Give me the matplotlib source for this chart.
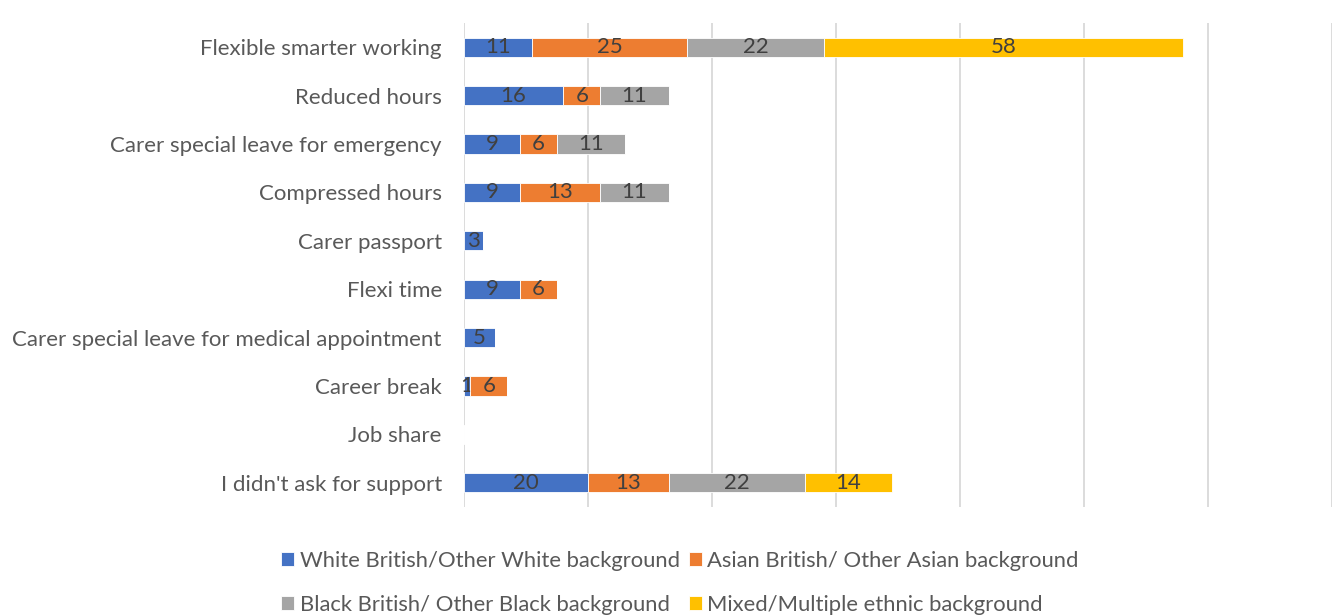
import matplotlib
matplotlib.use("Agg")
import matplotlib.pyplot as plt
import numpy as np

plt.rcParams['font.family'] = ['Lato', 'DejaVu Sans']

categories = [
    "Flexible smarter working",
    "Reduced hours",
    "Carer special leave for emergency",
    "Compressed hours",
    "Carer passport",
    "Flexi time",
    "Carer special leave for medical appointment",
    "Career break",
    "Job share",
    "I didn't ask for support",
]
white = [11, 16, 9, 9, 3, 9, 5, 1, 0, 20]
asian = [25, 6, 6, 13, 0, 6, 0, 6, 0, 13]
black = [22, 11, 11, 11, 0, 0, 0, 0, 0, 22]
mixed = [58, 0, 0, 0, 0, 0, 0, 0, 0, 14]

series_names = [
    "White British/Other White background",
    "Asian British/ Other Asian background",
    "Black British/ Other Black background",
    "Mixed/Multiple ethnic background",
]
colors = ["#4472C4", "#ED7D31", "#A5A5A5", "#FFC000"]

W, H = 1333, 616
fig = plt.figure(figsize=(W / 100, H / 100), dpi=100)
ax = fig.add_axes([464 / W, (H - 507) / H, (1332 - 464) / W, (507 - 23) / H])

y = np.arange(len(categories))
left = np.zeros(len(categories))
handles = []
for vals, name, col in zip([white, asian, black, mixed], series_names, colors):
    vals = np.array(vals, dtype=float)
    bars = ax.barh(y, vals, left=left, height=0.4, color=col, label=name,
                   edgecolor="white", linewidth=0.6, zorder=3)
    labels = [f"{int(v)}" if v > 0 else "" for v in vals]
    ax.bar_label(bars, labels=labels, label_type="center", color="#404040",
                 fontsize=16)
    handles.append(bars)
    left += vals

ax.set_xlim(0, 140)
ax.set_ylim(len(categories) - 0.5, -0.5)
ax.set_xticks(np.arange(0, 141, 20))
ax.set_xticklabels([])
ax.tick_params(axis="x", length=0)
ax.tick_params(axis="y", length=0, pad=16, labelsize=16, labelcolor="#595959")
ax.set_yticks(y)
ax.set_yticklabels(categories)
ax.grid(axis="x", color="#D9D9D9", linewidth=1.3, zorder=0)
for s in ax.spines.values():
    s.set_visible(False)

# legend filled row by row: (White, Asian) then (Black, Mixed)
order = [0, 2, 1, 3]
fig.legend([handles[i] for i in order], [series_names[i] for i in order],
           loc="lower center", bbox_to_anchor=(0.51, -0.03), ncol=2,
           frameon=False, fontsize=15.8, labelcolor="#595959",
           handlelength=0.6, handleheight=0.6, handletextpad=0.25,
           columnspacing=0.4, labelspacing=1.08)

fig.savefig("out.png", dpi=100)
